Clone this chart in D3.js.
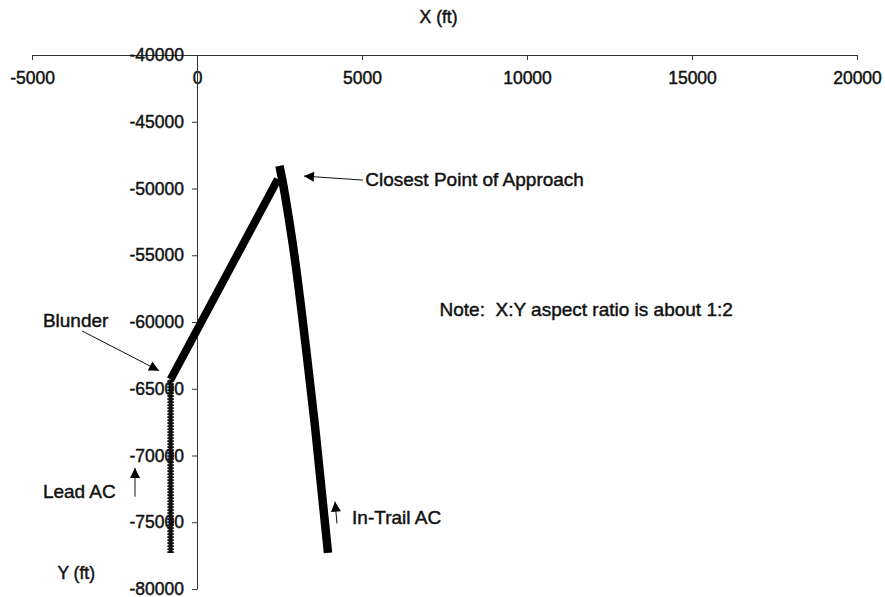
<!DOCTYPE html>
<html>
<head>
<meta charset="utf-8">
<script src="https://cdn.jsdelivr.net/npm/d3@7"></script>
<style>
  html, body { margin: 0; padding: 0; background: #fff; }
  svg { display: block; }
  text { font-family: "Liberation Sans", Arial, Helvetica, sans-serif; fill: #111; }
</style>
</head>
<body>
<svg id="chart" width="885" height="597"></svg>
<script>
// Axis ticks (ft)
const xTicks = [-5000, 0, 5000, 10000, 15000, 20000];
const yTicks = [-40000, -45000, -50000, -55000, -60000, -65000, -70000, -75000, -80000];

// Lead aircraft track: straight-in, then the blunder turn toward the trail aircraft
const leadX = [-800, -800, 2450];
const leadY = [-77300, -64300, -49300];

// In-trail aircraft track
const trailX = [2500, 2580, 2880, 3300, 3580, 3970];
const trailY = [-48300, -49300, -53800, -61900, -67900, -77300];

// Annotations: text, text anchor point and arrow (from -> to) in data units
const noteText = ["Closest Point of Approach", "Blunder", "Lead AC", "In-Trail AC", "Note:  X:Y aspect ratio is about 1:2"];
const noteX = [5100, -4670, -4670, 4700, 7350];
const noteY = [-49850, -60350, -73200, -75150, -59550];
const arrowFromX = [5030, -3485, -1879, 4242];
const arrowFromY = [-49368, -60669, -73086, -75093];
const arrowToX = [3242, -1152, -1879, 4182];
const arrowToY = [-49071, -63643, -70929, -73457];

const svg = d3.select("#chart");
const x = d3.scaleLinear().domain([-5000, 20000]).range([32, 857]);
const y = d3.scaleLinear().domain([-40000, -80000]).range([55, 589]);
const fmt = d => String(d);   // plain hyphen for negatives

// arrowhead marker
svg.append("defs").append("marker")
  .attr("id", "head")
  .attr("viewBox", "0 0 10 10")
  .attr("refX", 10).attr("refY", 5)
  .attr("markerUnits", "userSpaceOnUse")
  .attr("markerWidth", 13).attr("markerHeight", 10)
  .attr("orient", "auto")
  .append("path").attr("d", "M0,0 L10,5 L0,10 Z").attr("fill", "#000");

// axes
const xAxis = svg.append("g")
  .attr("transform", `translate(0,${y(-40000)})`)
  .call(d3.axisBottom(x).tickValues(xTicks).tickSize(5).tickSizeOuter(0).tickPadding(12).tickFormat(fmt));
const yAxis = svg.append("g")
  .attr("transform", `translate(${x(0)},0)`)
  .call(d3.axisLeft(y).tickValues(yTicks).tickSize(5).tickSizeOuter(0).tickPadding(8).tickFormat(fmt));

[xAxis, yAxis].forEach(g => {
  g.select(".domain").attr("stroke", "#333").attr("stroke-width", 1);
  g.selectAll(".tick line").attr("stroke", "#333");
  g.selectAll(".tick text")
    .attr("font-size", 17.5)
    .attr("font-family", "Liberation Sans, Arial, sans-serif")
    .attr("fill", "#111")
    .attr("stroke", "#111").attr("stroke-width", 0.45);
});

// axis titles
svg.append("text").attr("x", x(7320)).attr("y", 23)
  .attr("text-anchor", "middle").attr("font-size", 17.5)
  .attr("stroke", "#111").attr("stroke-width", 0.45)
  .text("X (ft)");
svg.append("text").attr("x", x(-3660)).attr("y", y(-79250))
  .attr("text-anchor", "middle").attr("font-size", 17.5)
  .attr("stroke", "#111").attr("stroke-width", 0.45)
  .text("Y (ft)");

// tracks
const line = d3.line().x(d => x(d[0])).y(d => y(d[1]));
const lead = leadX.map((v, i) => [v, leadY[i]]);
const trail = trailX.map((v, i) => [v, trailY[i]]);

// lead: straight-in leg drawn as dense markers, then the turn
svg.append("path").datum(lead.slice(0, 2)).attr("d", line)
  .attr("fill", "none").attr("stroke", "#111").attr("stroke-width", 4);
svg.append("path").datum(lead.slice(0, 2)).attr("d", line)
  .attr("fill", "none").attr("stroke", "#111").attr("stroke-width", 6.5)
  .attr("stroke-dasharray", "1.6,1.4");
svg.append("path").datum(lead.slice(1)).attr("d", line)
  .attr("fill", "none").attr("stroke", "#000").attr("stroke-width", 8)
  .attr("stroke-linecap", "butt").attr("stroke-linejoin", "round");

svg.append("path").datum(trail).attr("d", line.curve(d3.curveMonotoneY))
  .attr("fill", "none").attr("stroke", "#000").attr("stroke-width", 8.5)
  .attr("stroke-linecap", "butt").attr("stroke-linejoin", "round");

// annotation arrows
arrowFromX.forEach((v, i) => {
  svg.append("line")
    .attr("x1", x(v)).attr("y1", y(arrowFromY[i]))
    .attr("x2", x(arrowToX[i])).attr("y2", y(arrowToY[i]))
    .attr("stroke", "#111").attr("stroke-width", 1)
    .attr("marker-end", "url(#head)");
});

// annotation text
noteText.forEach((t, i) => {
  svg.append("text")
    .attr("x", x(noteX[i])).attr("y", y(noteY[i]))
    .attr("text-anchor", "start")
    .attr("font-size", 19)
    .attr("xml:space", "preserve")
    .attr("stroke", "#111").attr("stroke-width", 0.45)
    .text(t);
});
</script>
</body>
</html>
